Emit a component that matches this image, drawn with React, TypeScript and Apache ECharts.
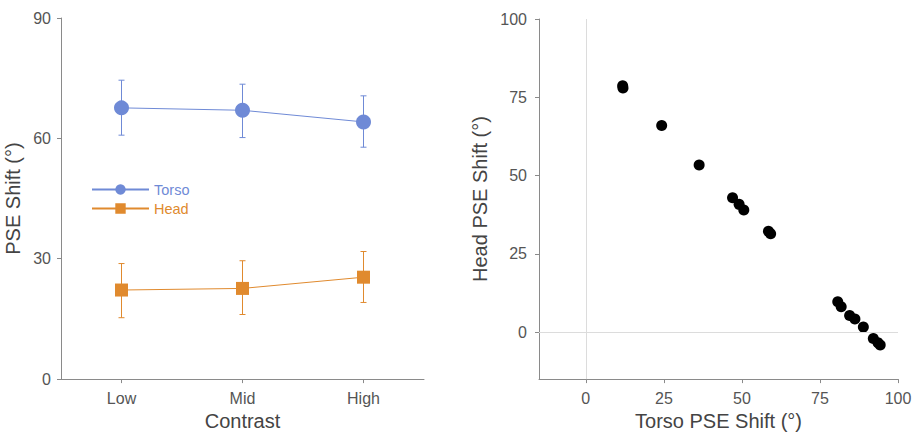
import React, { useEffect, useRef } from "react";
import * as echarts from "echarts";

const categories = ["Low", "Mid", "High"];
const torsoMean = [67.6, 67.0, 64.1];
const torsoLow = [60.8, 60.2, 57.8];
const torsoHigh = [74.5, 73.5, 70.6];
const headMean = [22.2, 22.6, 25.4];
const headLow = [15.3, 16.1, 19.1];
const headHigh = [28.8, 29.5, 31.8];

const torsoShift = [11.8, 11.9, 24.3, 36.3, 47.0, 49.1, 50.6, 58.5, 59.2, 80.7, 81.8, 84.5, 86.2, 88.9, 92.1, 93.6, 94.3];
const headShift = [78.7, 78.0, 66.0, 53.4, 42.9, 40.8, 39.0, 32.2, 31.4, 9.7, 8.1, 5.3, 4.2, 1.6, -2.0, -3.4, -4.1];

const leftTicks = [0, 30, 60, 90];
const rightTicks = [0, 25, 50, 75, 100];

const BLUE = "#6f8ad6";
const ORANGE = "#e08a2e";
const FONT = "Liberation Sans, Arial, Helvetica, sans-serif";
const AXIS = "#8a8a8a";
const LABEL = "#555";
const NAME = "#444";

function errorItem(color: string) {
  return (params: any, api: any) => {
    const i = api.value(0);
    const lo = api.coord([i, api.value(1)]);
    const hi = api.coord([i, api.value(2)]);
    const w = 3;
    const style = { stroke: color, lineWidth: 1 };
    return {
      type: "group",
      children: [
        { type: "line", shape: { x1: lo[0], y1: lo[1], x2: hi[0], y2: hi[1] }, style },
        { type: "line", shape: { x1: lo[0] - w, y1: lo[1], x2: lo[0] + w, y2: lo[1] }, style },
        { type: "line", shape: { x1: hi[0] - w, y1: hi[1], x2: hi[0] + w, y2: hi[1] }, style },
      ],
    };
  };
}

export default function App() {
  const ref = useRef<HTMLDivElement>(null);
  useEffect(() => {
    if (!ref.current) return;
    const chart = echarts.init(ref.current, null, { renderer: "svg" });
    const axisLabel = { color: LABEL, fontSize: 16, fontFamily: FONT };
    const nameStyle = { color: NAME, fontSize: 20, fontFamily: FONT };
    const axisLine = { show: true, onZero: false, lineStyle: { color: AXIS, width: 1 } };
    const axisTick = { show: true, length: 4, lineStyle: { color: AXIS } };
    const option: any = {
      animation: false,
      backgroundColor: "#fff",
      textStyle: { fontFamily: FONT },
      grid: [
        { left: 61, right: 495, top: 18, bottom: 56 },
        { left: 539, right: 21, top: 19, bottom: 56 },
      ],
      legend: {
        orient: "vertical",
        left: 91,
        top: 182,
        padding: 0,
        itemWidth: 57,
        itemHeight: 13,
        itemGap: 4,
        lineStyle: { width: 2 },
        textStyle: { fontSize: 14.5, fontFamily: FONT },
        data: [
          { name: "Torso", textStyle: { color: BLUE } },
          { name: "Head", textStyle: { color: ORANGE } },
        ],
      },
      xAxis: [
        {
          type: "category",
          gridIndex: 0,
          data: categories,
          axisLine,
          axisTick: { ...axisTick, alignWithLabel: true },
          axisLabel: { ...axisLabel, margin: 11 },
          name: "Contrast",
          nameLocation: "middle",
          nameGap: 31,
          nameTextStyle: nameStyle,
        },
        {
          type: "value",
          gridIndex: 1,
          min: -15,
          max: 100,
          axisLine,
          axisTick: { ...axisTick, customValues: rightTicks },
          axisLabel: { ...axisLabel, margin: 11, customValues: rightTicks },
          splitLine: { show: false },
          name: "Torso PSE Shift (°)",
          nameLocation: "middle",
          nameGap: 31,
          nameTextStyle: nameStyle,
        },
      ],
      yAxis: [
        {
          type: "value",
          gridIndex: 0,
          min: 0,
          max: 90,
          interval: 30,
          axisLine,
          axisTick: { ...axisTick, customValues: leftTicks },
          axisLabel: { ...axisLabel, margin: 10, customValues: leftTicks },
          splitLine: { show: false },
          name: "PSE Shift (°)",
          nameLocation: "middle",
          nameGap: 38,
          nameTextStyle: nameStyle,
        },
        {
          type: "value",
          gridIndex: 1,
          min: -15,
          max: 100,
          axisLine,
          axisTick: { ...axisTick, customValues: rightTicks },
          axisLabel: { ...axisLabel, margin: 12, customValues: rightTicks },
          splitLine: { show: false },
          name: "Head PSE Shift (°)",
          nameLocation: "middle",
          nameGap: 49,
          nameTextStyle: nameStyle,
        },
      ],
      series: [
        {
          name: "TorsoErr",
          type: "custom",
          xAxisIndex: 0,
          yAxisIndex: 0,
          renderItem: errorItem(BLUE),
          encode: { x: 0, y: [1, 2] },
          data: categories.map((_, i) => [i, torsoLow[i], torsoHigh[i]]),
          z: 1,
          silent: true,
        },
        {
          name: "HeadErr",
          type: "custom",
          xAxisIndex: 0,
          yAxisIndex: 0,
          renderItem: errorItem(ORANGE),
          encode: { x: 0, y: [1, 2] },
          data: categories.map((_, i) => [i, headLow[i], headHigh[i]]),
          z: 1,
          silent: true,
        },
        {
          name: "Torso",
          type: "line",
          xAxisIndex: 0,
          yAxisIndex: 0,
          data: torsoMean,
          symbol: "circle",
          symbolSize: 15,
          itemStyle: { color: BLUE },
          lineStyle: { color: BLUE, width: 1 },
          z: 3,
        },
        {
          name: "Head",
          type: "line",
          xAxisIndex: 0,
          yAxisIndex: 0,
          data: headMean,
          symbol: "rect",
          symbolSize: 13,
          itemStyle: { color: ORANGE },
          lineStyle: { color: ORANGE, width: 1 },
          z: 3,
        },
        {
          name: "Shift",
          type: "scatter",
          xAxisIndex: 1,
          yAxisIndex: 1,
          data: torsoShift.map((x, i) => [x, headShift[i]]),
          symbol: "circle",
          symbolSize: 11,
          itemStyle: { color: "#000", opacity: 1 },
          z: 3,
          markLine: {
            silent: true,
            symbol: "none",
            label: { show: false },
            lineStyle: { color: "#dcdcdc", width: 1, type: "solid" },
            data: [{ xAxis: 0 }, { yAxis: 0 }],
          },
        },
      ],
    };
    chart.setOption(option);
    return () => chart.dispose();
  }, []);
  return <div ref={ref} style={{ width: 919, height: 436, position: "absolute", left: 0, top: 0 }} />;
}
